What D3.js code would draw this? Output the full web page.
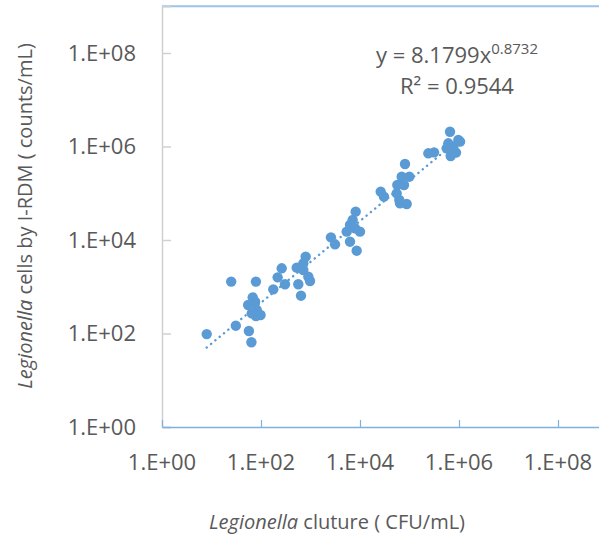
<!DOCTYPE html>
<html>
<head>
<meta charset="utf-8">
<script src="https://cdn.jsdelivr.net/npm/d3@7"></script>
<style>
  body { margin: 0; background: #fff; }
  svg text { font-family: "Open Sans", "Noto Sans", sans-serif; fill: #595959; }
</style>
</head>
<body>
<svg id="chart" width="599" height="536"></svg>
<script>
// Legionella culture (CFU/mL) vs cells counted by I-RDM (counts/mL)
var cultureCfu = [8.0, 25, 31, 57, 64, 79, 68, 55, 76, 82, 65, 98, 79,
  177, 217, 262, 305, 567, 643, 526, 716, 799, 716, 904, 977,
  2590, 3130, 5380, 6280, 7110, 8180, 10000, 6280, 8570, 7920,
  26200, 30500, 55100, 62300, 87700, 64300, 56700, 69500, 99300, 81100, 77400,
  240000, 313000, 658000, 609000, 769000, 970000, 679000, 869000, 563000, 1050000]
var rdmCounts = [97, 1290, 147, 113, 65, 1290, 594, 407, 480, 318, 270, 249, 237,
  880, 1590, 2480, 1130, 1130, 644, 2560, 3170, 4400, 2280, 1640, 1330,
  11400, 8070, 15100, 20900, 26800, 40400, 15100, 9200, 5910, 17800,
  108000, 84500, 99600, 71700, 58900, 61000, 150000, 226000, 226000, 422000, 150000,
  715000, 750000, 2070000, 1170000, 991000, 1380000, 627000, 738000, 914000, 1270000]

// power fit shown on the chart
var fitA = 8.1799
var fitB = 0.8732
var fitR2 = 0.9544

var xTicks = [1e0, 1e2, 1e4, 1e6, 1e8]
var yTicks = [1e0, 1e2, 1e4, 1e6, 1e8]

var blue = "#5b9bd5"

var svg = d3.select("#chart")

var x = d3.scaleLog().domain([1, 1e10]).range([162, 657])
var y = d3.scaleLog().domain([1, 1e9]).range([427, 6.25])

var expLabel = function(d){
  var e = Math.round(Math.log10(d))
  return "1.E+" + (e < 10 ? "0" + e : e)
}

// top border of plot area
svg.append("line")
  .attr("x1", x(1)).attr("x2", 599)
  .attr("y1", y(1e9)).attr("y2", y(1e9))
  .attr("stroke", "#9dc3e6").attr("stroke-width", 2)

// y axis (grey, ticks pointing inward)
var yAxis = svg.append("g")
  .attr("transform", "translate(" + x(1) + ",0)")
  .call(d3.axisRight(y).tickValues(yTicks).tickSize(9).tickFormat(""))
yAxis.select(".domain").attr("stroke", "#d0d0d0").attr("stroke-width", 1.5)
yAxis.selectAll(".tick line").attr("stroke", "#d0d0d0").attr("stroke-width", 1.5)

svg.append("g").selectAll("text")
  .data(yTicks)
  .enter()
  .append("text")
  .attr("x", 136)
  .attr("y", function(d){ return y(d) })
  .attr("dy", "0.35em")
  .attr("text-anchor", "end")
  .style("font-size", "22px")
  .text(expLabel)

// x axis (blue, ticks pointing up)
var xAxis = svg.append("g")
  .attr("transform", "translate(0," + y(1) + ")")
  .call(d3.axisTop(x).tickValues(xTicks).tickSize(7).tickSizeOuter(0).tickFormat(""))
xAxis.select(".domain").attr("stroke", "#7fb0df").attr("stroke-width", 1.5)
xAxis.selectAll(".tick line").attr("stroke", "#7fb0df").attr("stroke-width", 1.2)

svg.append("g").selectAll("text")
  .data(xTicks)
  .enter()
  .append("text")
  .attr("x", function(d){ return x(d) })
  .attr("y", 462)
  .attr("dy", "0.35em")
  .attr("text-anchor", "middle")
  .style("font-size", "22px")
  .text(expLabel)

// points
var points = cultureCfu.map(function(c, i){ return {cfu: c, counts: rdmCounts[i]} })

svg.append("g").selectAll("circle")
  .data(points)
  .enter()
  .append("circle")
  .attr("cx", function(d){ return x(d.cfu) })
  .attr("cy", function(d){ return y(d.counts) })
  .attr("r", 5.2)
  .attr("fill", blue)

// dotted trend line
var xExt = d3.extent(cultureCfu)
var trend = xExt.map(function(v){ return {cfu: v, counts: fitA * Math.pow(v, fitB)} })

svg.append("path")
  .datum(trend)
  .attr("d", d3.line().x(function(d){ return x(d.cfu) }).y(function(d){ return y(d.counts) }))
  .attr("fill", "none")
  .attr("stroke", blue)
  .attr("stroke-width", 2.4)
  .attr("stroke-linecap", "round")
  .attr("stroke-dasharray", "0.1 5.5")

// equation
var eq = svg.append("text")
  .attr("x", 457).attr("y", 63)
  .attr("text-anchor", "middle")
  .style("font-size", "22px")
eq.append("tspan").text("y = " + fitA.toFixed(4) + "x")
eq.append("tspan").attr("dy", -9).style("font-size", "15px").text(fitB.toFixed(4))

svg.append("text")
  .attr("x", 457).attr("y", 94)
  .attr("text-anchor", "middle")
  .style("font-size", "22px")
  .text("R\u00b2 = " + fitR2.toFixed(4))

// axis titles
var yTitle = svg.append("text")
  .attr("transform", "translate(32,216) rotate(-90)")
  .attr("text-anchor", "middle")
  .style("font-size", "20px")
yTitle.append("tspan").style("font-style", "italic").text("Legionella")
yTitle.append("tspan").text(" cells by I-RDM ( counts/mL)")

var xTitle = svg.append("text")
  .attr("x", 337).attr("y", 529)
  .attr("text-anchor", "middle")
  .style("font-size", "20px")
xTitle.append("tspan").style("font-style", "italic").text("Legionella")
xTitle.append("tspan").text(" cluture ( CFU/mL)")
</script>
</body>
</html>
